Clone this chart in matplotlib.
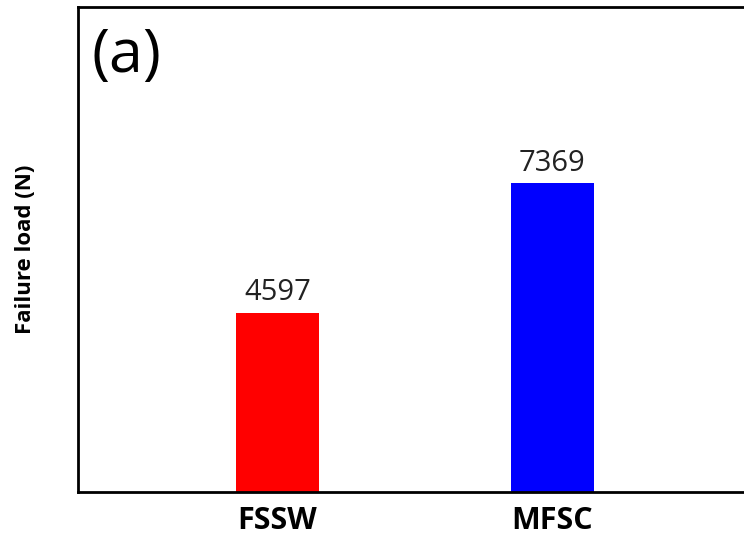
import matplotlib.pyplot as plt

# failure load of the two joining processes
procesos = ["FSSW", "MFSC"]
carga_falla = [4597, 7369]
colores = ["#ff0000", "#0000ff"]

plt.rcParams['font.family'] = ['Open Sans', 'DejaVu Sans']

fig = plt.figure(figsize=(7.44, 5.38), dpi=100)
# axes run a little past the right edge of the figure
ax = fig.add_axes([78 / 744, 1 - 492 / 538, 674 / 744, 485 / 538])

x = range(len(procesos))
barras = ax.bar(x, carga_falla, width=0.3, color=colores)

for b, v in zip(barras, carga_falla):
    ax.annotate(f"{v}", (b.get_x() + b.get_width() / 2, v), xytext=(0, 4),
                textcoords="offset points", ha="center", va="bottom",
                fontsize=21, color="#222222")

ax.set_xlim(-0.726, 1.726)
ax.set_ylim(756, 11150)
ax.set_xticks(list(x))
ax.set_xticklabels(procesos, fontsize=22, fontweight="bold")
ax.set_yticks([])
ax.tick_params(axis="x", length=0, pad=10)
ax.set_ylabel("Failure load (N)", fontsize=16, fontweight="bold", labelpad=30)

for s in ax.spines.values():
    s.set_linewidth(2)
ax.spines["right"].set_visible(False)

ax.text(0.02, 0.96, "(a)", transform=ax.transAxes, fontsize=44,
        ha="left", va="top")

fig.savefig("out.png", dpi=100)
